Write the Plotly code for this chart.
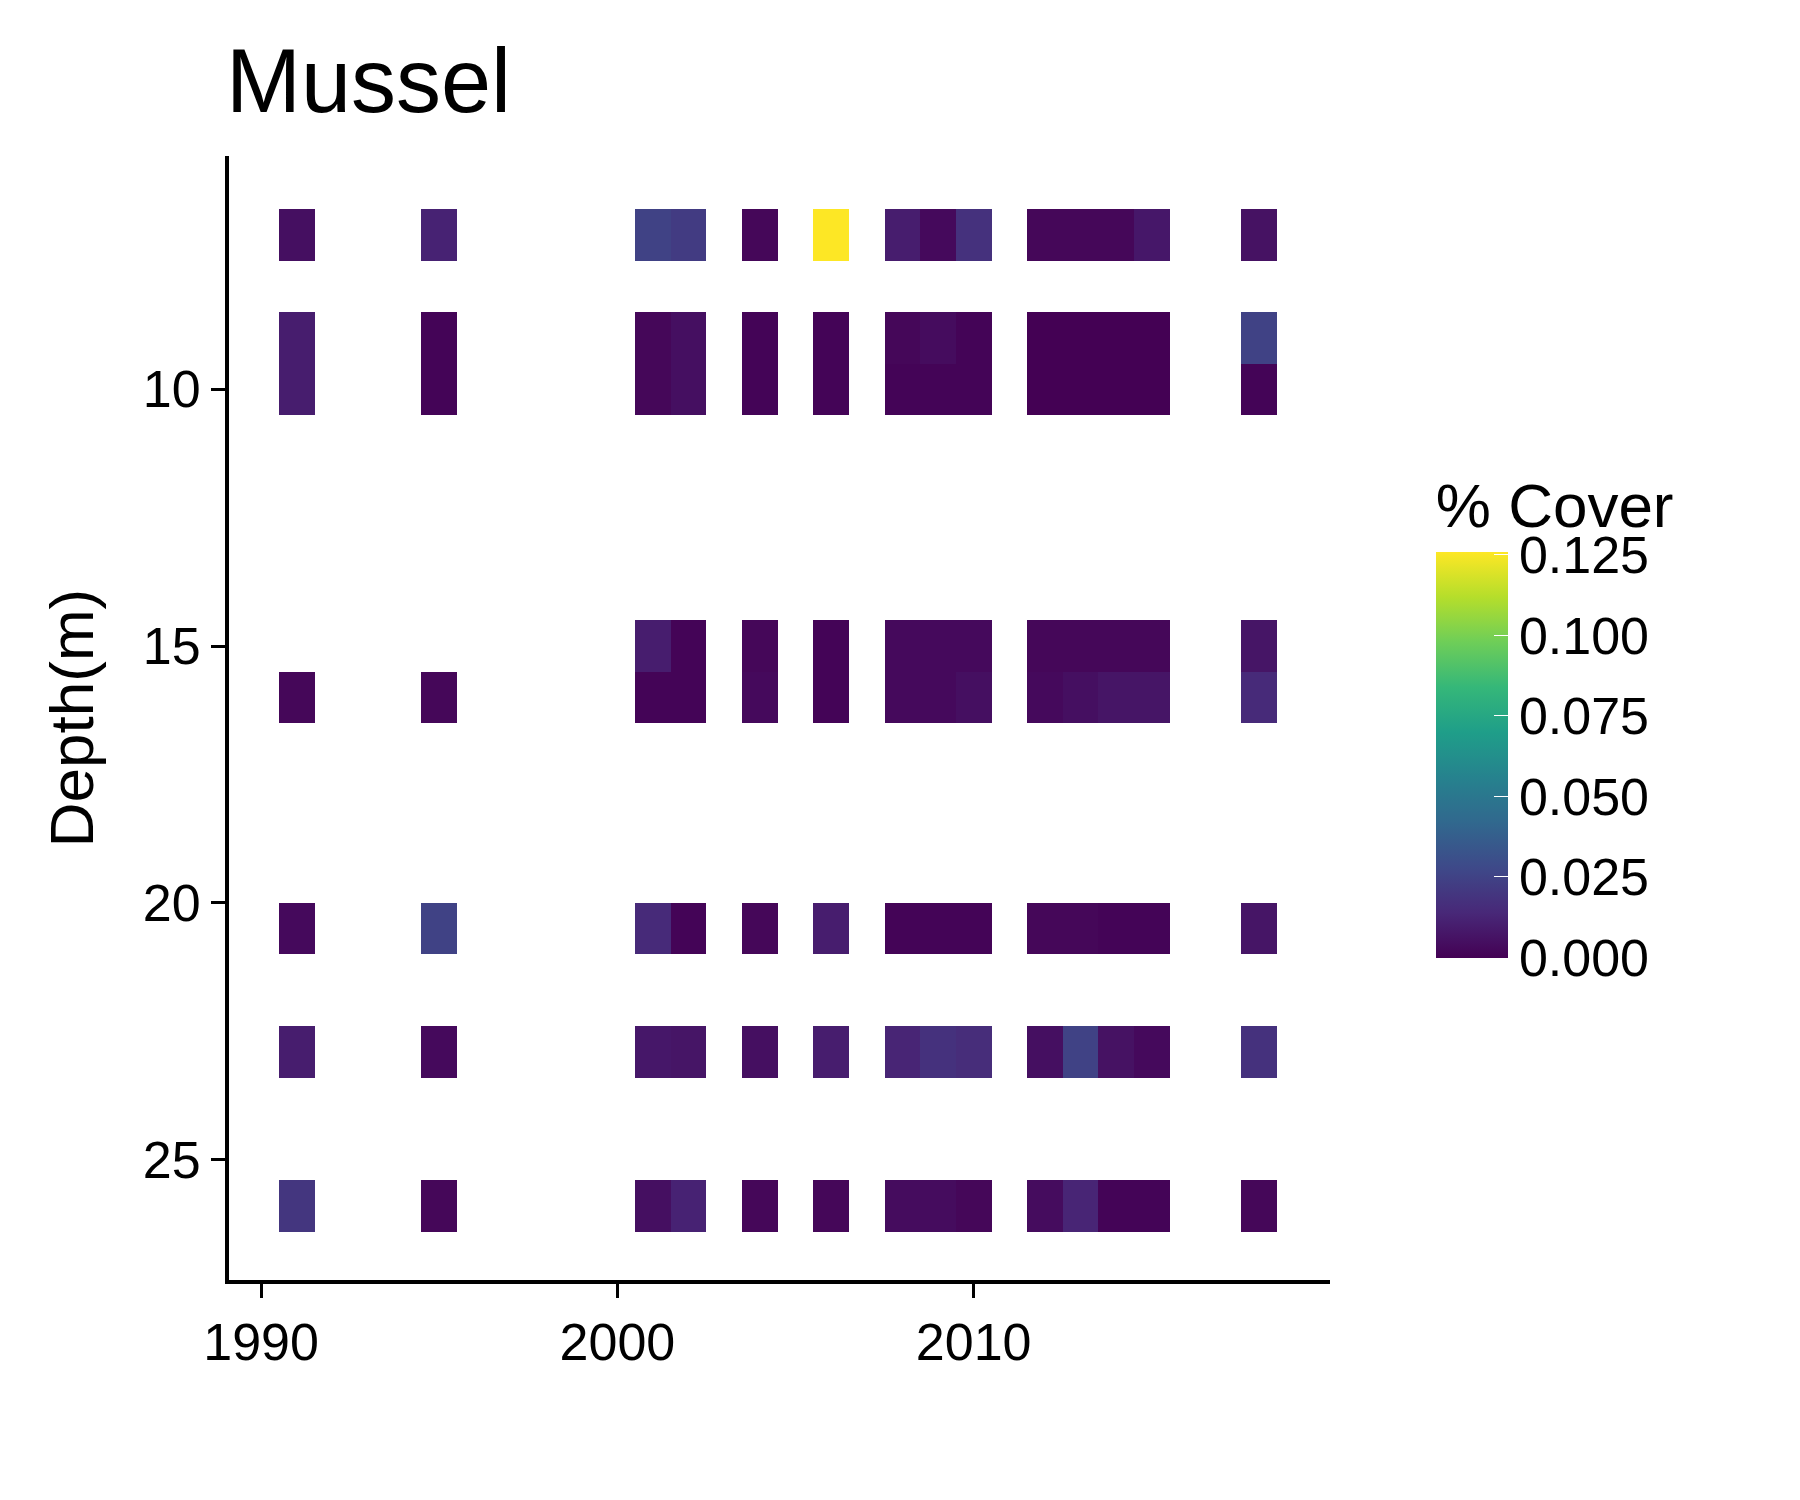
import plotly.graph_objects as go

years = [1991, 1995, 2001, 2002, 2004, 2006, 2008, 2009, 2010, 2012, 2013, 2014, 2015, 2018]
depths = [7, 9, 10, 15, 16, 20.5, 22.9, 25.9]

# % cover per depth row, one value per year (None = not sampled)
cover = {
    7:    [0.005, 0.012, 0.025, 0.022, 0.002, 0.126, 0.010, 0.003, 0.018, 0.002, 0.002, 0.002, 0.008, 0.006],
    9:    [0.010, 0.001, 0.002, 0.005, 0.001, 0.001, 0.002, 0.004, 0.001, 0.000, 0.000, 0.000, 0.000, 0.025],
    10:   [0.010, 0.001, 0.002, 0.005, 0.001, 0.001, 0.001, 0.001, 0.001, 0.000, 0.000, 0.000, 0.000, 0.001],
    15:   [None, None, 0.010, 0.001, 0.002, 0.001, 0.003, 0.003, 0.003, 0.002, 0.002, 0.002, 0.002, 0.007],
    16:   [0.002, 0.002, 0.001, 0.001, 0.003, 0.001, 0.003, 0.003, 0.005, 0.003, 0.005, 0.007, 0.007, 0.015],
    20.5: [0.003, 0.025, 0.015, 0.001, 0.002, 0.010, 0.001, 0.001, 0.001, 0.002, 0.002, 0.001, 0.001, 0.007],
    22.9: [0.010, 0.003, 0.008, 0.007, 0.005, 0.010, 0.013, 0.018, 0.016, 0.005, 0.025, 0.006, 0.003, 0.018],
    25.9: [0.020, 0.002, 0.005, 0.012, 0.002, 0.002, 0.004, 0.004, 0.002, 0.004, 0.013, 0.001, 0.001, 0.002],
}

xs, bases, vals = [], [], []
for d in depths:
    for yr, v in zip(years, cover[d]):
        if v is None:
            continue
        xs.append(yr)
        bases.append(d - 0.5)
        vals.append(v)

fig = go.Figure(go.Bar(
    x=xs, y=[1] * len(xs), base=bases, width=1,
    marker=dict(
        color=vals, colorscale="Viridis", cmin=0, cmax=0.126, line=dict(width=0),
        colorbar=dict(
            title=dict(text="% Cover", side="top", font=dict(size=62)),
            tickvals=[0, 0.025, 0.05, 0.075, 0.1, 0.125],
            ticktext=["0.000", "0.025", "0.050", "0.075", "0.100", "0.125"],
            tickfont=dict(size=52),
            x=1.087, xanchor="left", y=0.278, yanchor="bottom",
            lenmode="pixels", len=500, thickness=72, outlinewidth=0,
            ticks="inside", tickcolor="white", ticklen=14,
        ),
    ),
    hovertemplate="%{x}, %{base}: %{marker.color}<extra></extra>",
))

axis_style = dict(showline=True, linecolor="black", linewidth=4, ticks="outside",
                  tickwidth=3, ticklen=14, tickcolor="black", showgrid=False,
                  zeroline=False, tickfont=dict(size=52, color="black"))

fig.update_xaxes(range=[1989.1, 2020.0], tickvals=[1990, 2000, 2010], **axis_style)
fig.update_yaxes(range=[27.34, 5.46], tickvals=[10, 15, 20, 25],
                 title=dict(text="Depth(m)", font=dict(size=62, color="black"), standoff=30),
                 **axis_style)

fig.update_layout(
    width=1800, height=1500,
    plot_bgcolor="white", paper_bgcolor="white",
    font=dict(family="Liberation Sans, Arial, sans-serif", color="black"),
    title=dict(text="Mussel", x=218 / 1800, xanchor="left", y=1 - 72 / 1500, yanchor="middle",
               font=dict(size=90)),
    margin=dict(l=221, r=478, t=148, b=228),
    barmode="overlay", bargap=0, showlegend=False,
)

fig.write_html("out.html")
